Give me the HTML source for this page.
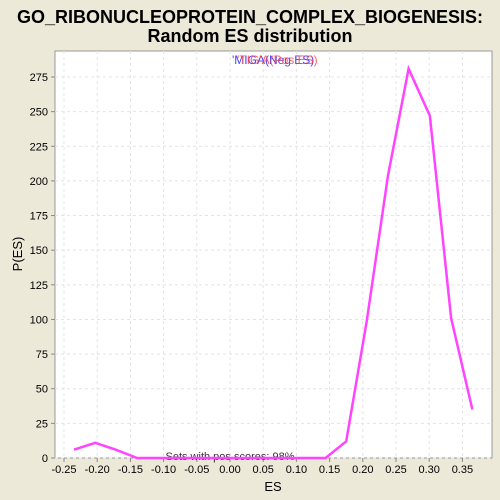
<!DOCTYPE html>
<html><head><meta charset="utf-8"><style>
body{margin:0;background:#ece9d8;}
svg{display:block;font-family:"Liberation Sans",sans-serif;}
</style></head><body>
<svg id="c" width="500" height="500">
<rect x="0" y="0" width="500" height="500" fill="#ece9d8"/>
<text x="250" y="23" text-anchor="middle" font-size="18" font-weight="bold">GO_RIBONUCLEOPROTEIN_COMPLEX_BIOGENESIS:</text>
<text x="250" y="42" text-anchor="middle" font-size="18" font-weight="bold">Random ES distribution</text>
<rect x="55" y="51" width="437" height="407" fill="#fff" stroke="#999"/>
<g id="grid"></g>
<g id="xt"></g>
<g id="yt"></g>
<text x="273" y="491" text-anchor="middle" font-size="13">ES</text>
<text transform="translate(22,254) rotate(-90)" text-anchor="middle" font-size="13">P(ES)</text>
<text x="232" y="64" font-size="12" fill="#4444ff">'MIGA(Neg ES)</text>
<text x="237" y="64" font-size="12" fill="#ff4444" opacity="0.85">'TIG'A(Pos ES)</text>
<text x="230" y="460" text-anchor="middle" font-size="11" fill="#333">Sets with pos scores: 98%</text>
<polyline id="line" fill="none" stroke="#ff44ff" stroke-width="2.5"/>
</svg>
<script>
const esValues=[-0.235,-0.203,-0.172,-0.14,-0.109,-0.077,-0.046,-0.014,0.017,0.049,0.08,0.112,0.144,0.175,0.206,0.238,0.269,0.301,0.333,0.365];
const pValues=[6,11,6,0,0,0,0,0,0,0,0,0,0,12,99,204,281,247,101,35];
const xTicks=[-0.25,-0.2,-0.15,-0.1,-0.05,0,0.05,0.1,0.15,0.2,0.25,0.3,0.35];
const yTicks=[0,25,50,75,100,125,150,175,200,225,250,275];
const X=v=>230+v*664, Y=v=>458-v*(381/275);
const ns="http://www.w3.org/2000/svg";
const g=document.getElementById('grid'),xt=document.getElementById('xt'),yt=document.getElementById('yt');
function mk(t,a,p){const e=document.createElementNS(ns,t);for(const k in a)e.setAttribute(k,a[k]);p.appendChild(e);return e;}
xTicks.forEach(v=>{const x=X(v);
const l=mk('line',{x1:x,x2:x,y1:51,y2:458,stroke:'#e4e4e4','stroke-dasharray':'3,3'},g);


const t=mk('line',{x1:x,x2:x,y1:458,y2:462,stroke:'#888'},xt);


const s=mk('text',{x:x,y:473,'text-anchor':'middle','font-size':'11'},xt);s.textContent=v.toFixed(2);

});
yTicks.forEach(v=>{const y=Y(v);
const l=mk('line',{x1:55,x2:492,y1:y,y2:y,stroke:'#e4e4e4','stroke-dasharray':'3,3'},g);


const t=mk('line',{x1:51,x2:55,y1:y,y2:y,stroke:'#888'},yt);


const s=mk('text',{x:48,y:y+4,'text-anchor':'end','font-size':'11'},yt);s.textContent=v;

});
document.getElementById('line').setAttribute('points',esValues.map((e,i)=>X(e)+','+Y(pValues[i])).join(' '));
</script>
</body></html>
